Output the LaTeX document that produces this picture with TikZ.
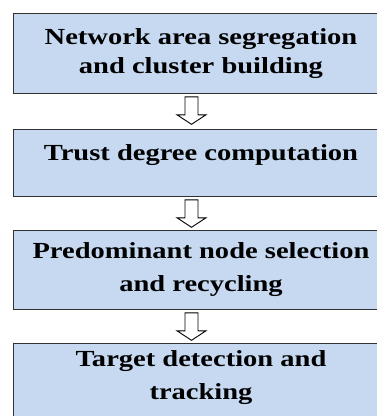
\documentclass[tikz,border=0pt]{standalone}
\usepackage{fontspec}
\setmainfont{Liberation Serif}[FakeStretch=1.24]
\definecolor{boxfill}{RGB}{198,217,241}
\definecolor{boxline}{RGB}{50,50,50}
\begin{document}
\begin{tikzpicture}[x=1pt,y=-1pt,
  box/.style={draw=boxline, line width=1.3pt, fill=boxfill, rectangle, inner sep=0pt, anchor=north west, minimum width=376pt},
  txt/.style={anchor=base, inner sep=0pt, font=\fontsize{23}{27}\selectfont\bfseries},
  hollow/.style={draw=black, line width=0.9pt, fill=white, line join=miter}]
\useasboundingbox (0,0) rectangle (377,416);
\node[box, minimum height=80pt] (b1) at (13,13) {};
\node[box, minimum height=67pt] (b2) at (13,129) {};
\node[box, minimum height=79pt] (b3) at (13,230) {};
\node[box, minimum height=87pt] (b4) at (13,343) {};
\node[txt] (t1a) at (201,44) {Network area segregation};
\node[txt] (t1b) at (201,73) {and cluster building};
\node[txt] (t2) at (201,160) {Trust degree computation};
\node[txt] (t3a) at (201,258) {Predominant node selection};
\node[txt] (t3b) at (201,291) {and recycling};
\node[txt] (t4a) at (201,366) {Target detection and};
\node[txt] (t4b) at (201,399) {tracking};
\foreach \b/\a in {b1/a1,b2/a2,b3/a3}{
  \coordinate (\a) at ([xshift=178.5pt,yshift=-2.5pt]\b.south west);
  \draw[hollow] (\a) +(-6.5,0) -- +(6.5,0) -- +(6.5,18) -- +(14.5,18) -- +(0,27.5) -- +(-14.5,18) -- +(-6.5,18) -- cycle;
}
\end{tikzpicture}
\end{document}
